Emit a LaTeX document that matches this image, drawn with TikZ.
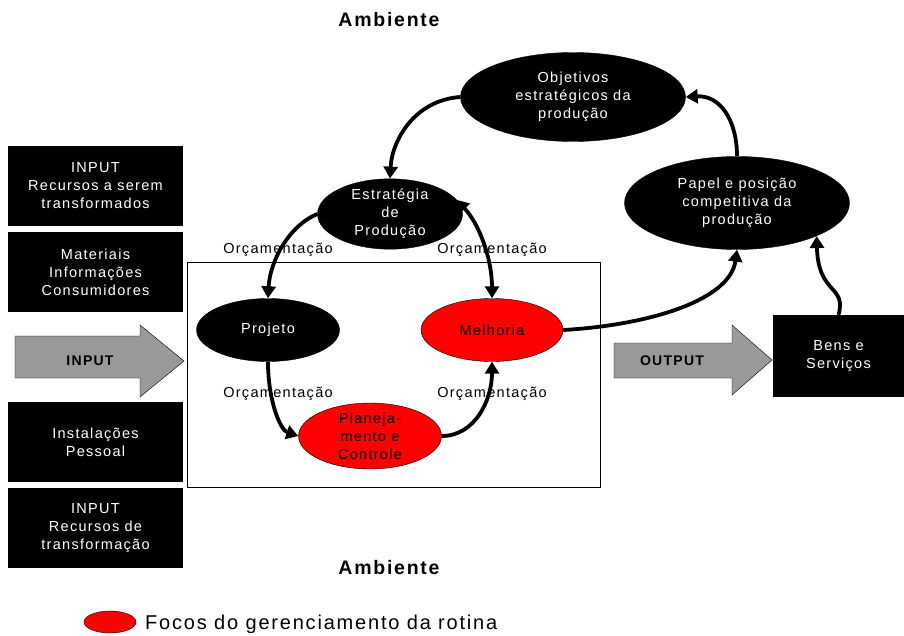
\documentclass[tikz,border=0pt]{standalone}
\usepackage{fontspec}
\setmainfont[LetterSpace=9]{Liberation Sans}
\usetikzlibrary{arrows.meta,shapes.geometric}
\begin{document}
\begin{tikzpicture}[x=1pt,y=-1pt,
    lbl/.style={font=\fontsize{14.5}{18}\selectfont,align=center},
    blk/.style={ellipse,fill=black,draw=black,text=white,inner sep=0pt,lbl},
    foco/.style={ellipse,fill=red,draw=black,thin,text=black,inner sep=0pt,lbl},
    caixa/.style={fill=black,text=white,minimum width=175pt,minimum height=80pt,inner sep=0pt,lbl},
    seta/.style={line width=3.8pt,-{Triangle[length=12pt,width=14pt]}},
    bigarr/.style={draw=black,thin,fill=black!40}]
\useasboundingbox(0,0)rectangle(904,635);
% titulos
\node[font=\fontsize{19.5}{20}\selectfont\bfseries](amb1)at(389,20){Ambiente};
\node[font=\fontsize{19.5}{20}\selectfont\bfseries](amb2)at(389,568){Ambiente};
% caixas de entrada
\node[caixa](c1)at(95.5,186){INPUT\\Recursos a serem\\transformados};
\node[caixa](c2)at(95.5,272){Materiais\\Informações\\Consumidores};
\node[caixa](c3)at(95.5,442){Instalações\\Pessoal};
\node[caixa](c4)at(95.5,528){INPUT\\Recursos de\\transformação};
\draw[bigarr](15,336)--(140,336)--(140,325)--(184,361)--(140,397)--(140,378)--(15,378)--cycle;
\node[lbl,font=\fontsize{14}{17}\selectfont\bfseries](inp)at(90,361){INPUT};
\draw[thin](187,262)rectangle(600,487);
% elipses
\node[blk,minimum width=225pt,minimum height=89pt](obj)at(573,97){Objetivos\\estratégicos da\\produção};
\node[blk,minimum width=145pt,minimum height=58pt](est)at(390,214){Estratégia\\de\\Produção};
\node[blk,minimum width=143pt,minimum height=63pt](proj)at(268,330){Projeto};
\node[foco,minimum width=142pt,minimum height=63pt](mel)at(492,330){Melhoria};
\node[foco,minimum width=143pt,minimum height=63pt](plan)at(370,436){Planeja-\\mento e\\Controle};
\node[blk,minimum width=225pt,minimum height=93pt](pap)at(737,203){Papel e posição\\competitiva da\\produção};
\node[caixa,minimum width=131pt,minimum height=82pt](bens)at(838.5,356){Bens e\\Serviços};
\draw[bigarr](614,343)--(732,343)--(732,325)--(772,360)--(732,395)--(732,378)--(614,378)--cycle;
\node[lbl,font=\fontsize{14}{17}\selectfont\bfseries](out)at(672,361){OUTPUT};
% orcamentacao
\node[lbl](o1)at(278,250){Orçamentação};
\node[lbl](o2)at(492,250){Orçamentação};
\node[lbl](o3)at(278,394){Orçamentação};
\node[lbl](o4)at(492,394){Orçamentação};
% setas
\draw[seta](obj.west)..controls(415,100)and(392,140)..(est.north);
\draw[seta](est.west)..controls(290,225)and(270,260)..(proj.north);
\draw[seta,{Triangle[length=12pt,width=14pt]}-{Triangle[length=12pt,width=14pt]}](est.12)..controls(480,225)and(492,260)..(mel.north);
\draw[seta](proj.south)..controls(268,400)and(280,430)..(plan.west);
\draw[seta](plan.east)..controls(475,436)and(492,400)..(mel.south);
\draw[seta](mel.east)..controls(650,325)and(730,300)..(pap.south);
\draw[seta](bens.north)..controls(847,285)and(818,295)..(pap.south east);
\draw[seta](pap.north)..controls(737,120)and(720,95)..(obj.east);
% legenda
\node[foco,minimum width=52pt,minimum height=22pt](leg)at(110,622){};
\node[anchor=base west,font=\fontsize{20}{22}\selectfont,inner sep=0pt](legt)at(145,629.5){Focos do gerenciamento da rotina};
\end{tikzpicture}
\end{document}
